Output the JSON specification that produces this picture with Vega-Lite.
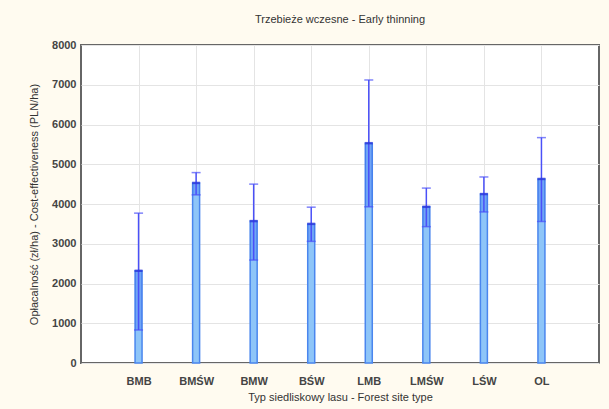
{
  "$schema": "https://vega.github.io/schema/vega-lite/v6.json",
  "autosize": "none",
  "width": 518,
  "height": 318,
  "padding": {"left": 81, "top": 45, "right": 10, "bottom": 46},
  "background": "#fffbf0",
  "title": {
    "text": "Trzebieże wczesne - Early thinning",
    "font": "Liberation Sans",
    "fontSize": 11,
    "fontWeight": "normal",
    "color": "#333333",
    "anchor": "middle",
    "offset": 14
  },
  "config": {
    "view": {"fill": "#ffffff", "stroke": "#666666", "strokeWidth": 2},
    "axis": {
      "labelFont": "Liberation Sans",
      "titleFont": "Liberation Sans",
      "labelFontSize": 11,
      "labelFontWeight": "bold",
      "labelColor": "#444444",
      "titleFontSize": 11,
      "titleFontWeight": "normal",
      "titleColor": "#333333",
      "domain": false,
      "gridColor": "#e4e4e4",
      "gridWidth": 1,
      "labelOverlap": false
    },
    "axisY": {"tickCount": 12, "format": "d", "ticks": false, "labelPadding": 5, "titlePadding": 12}
  },
  "data": {
    "values": [
      {"site": "BMB", "mean": 2320, "lower": 830, "upper": 3770},
      {"site": "BMŚW", "mean": 4530, "lower": 4230, "upper": 4790},
      {"site": "BMW", "mean": 3570, "lower": 2590, "upper": 4500},
      {"site": "BŚW", "mean": 3500, "lower": 3060, "upper": 3920},
      {"site": "LMB", "mean": 5530, "lower": 3930, "upper": 7120},
      {"site": "LMŚW", "mean": 3930, "lower": 3430, "upper": 4400},
      {"site": "LŚW", "mean": 4250, "lower": 3800, "upper": 4680},
      {"site": "OL", "mean": 4630, "lower": 3560, "upper": 5670}
    ]
  },
  "encoding": {
    "x": {
      "field": "site",
      "type": "ordinal",
      "sort": null,
      "scale": {"type": "point", "padding": 1},
      "axis": {
        "title": "Typ siedliskowy lasu - Forest site type",
        "labelAngle": 0,
        "ticks": false,
        "labelPadding": 12,
        "titlePadding": 5,
        "grid": true
      }
    }
  },
  "layer": [
    {
      "mark": {"type": "bar", "size": 7, "fill": "#8ec5f8", "stroke": "#4a86ee", "strokeWidth": 1.5},
      "encoding": {
        "y": {
          "field": "mean",
          "type": "quantitative",
          "scale": {"domain": [0, 8000], "nice": false},
          "axis": {
            "title": "Opłacalność (zł/ha) - Cost-effectiveness (PLN/ha)",
            "values": [0, 1000, 2000, 3000, 4000, 5000, 6000, 7000, 8000],
            "tickCount": 12,
            "grid": true
          }
        }
      }
    },
    {
      "mark": {"type": "bar", "size": 7, "fill": "#2a5cf0", "opacity": 0.3},
      "encoding": {
        "y": {"field": "lower", "type": "quantitative"},
        "y2": {"field": "mean"}
      }
    },
    {
      "mark": {"type": "rule", "color": "#4a50f8", "strokeWidth": 1.5},
      "encoding": {
        "y": {"field": "lower", "type": "quantitative"},
        "y2": {"field": "upper"}
      }
    },
    {
      "mark": {"type": "tick", "color": "#4a50f8", "size": 9, "thickness": 1.5},
      "encoding": {"y": {"field": "upper", "type": "quantitative"}}
    },
    {
      "mark": {"type": "tick", "color": "#4a50f8", "size": 9, "thickness": 1.5},
      "encoding": {"y": {"field": "lower", "type": "quantitative"}}
    },
    {
      "mark": {"type": "tick", "color": "#2a30d8", "size": 8, "thickness": 2.5},
      "encoding": {"y": {"field": "mean", "type": "quantitative"}}
    }
  ]
}
